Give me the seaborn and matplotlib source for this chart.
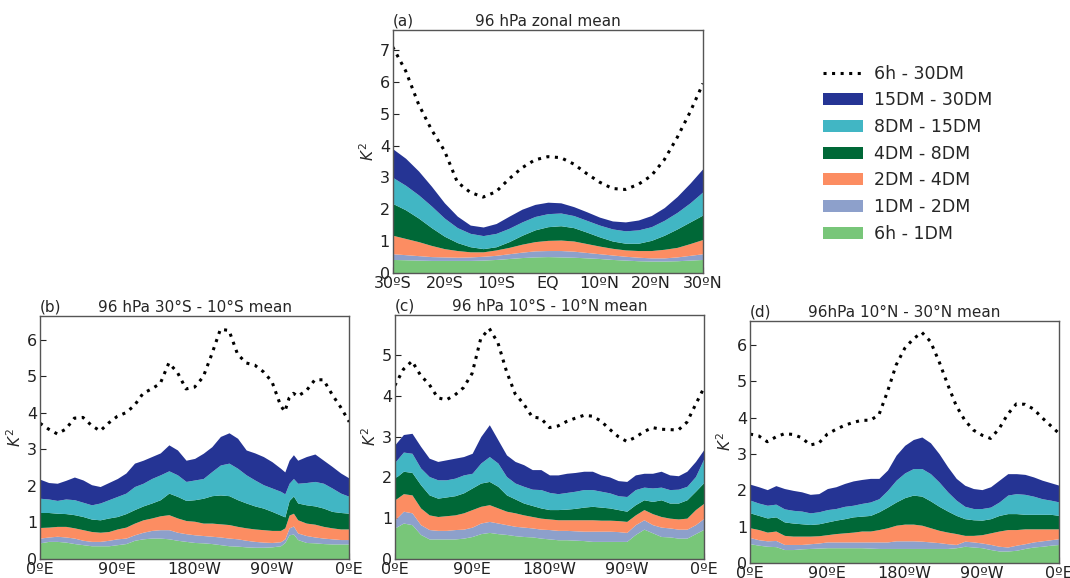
import numpy as np
import pandas as pd
import matplotlib
matplotlib.use("Agg")
import matplotlib.pyplot as plt
from matplotlib.lines import Line2D
from matplotlib.patches import Patch
import seaborn as sns

# ---------------- data (cumulative upper edges of each band) ----------------
band_labels = ["6h - 1DM", "1DM - 2DM", "2DM - 4DM", "4DM - 8DM", "8DM - 15DM", "15DM - 30DM"]
band_colors = ["#78c679", "#8da0cb", "#fc8d62", "#006837", "#41b6c4", "#253494"]
total_label = "6h - 30DM"

# panel (a): zonal mean vs latitude
lat_a = [-30, -27.5, -25, -22.5, -20, -17.5, -15, -12.5, -10, -7.5, -5, -2.5, 0,
         2.5, 5, 7.5, 10, 12.5, 15, 17.5, 20, 22.5, 25, 27.5, 30]
a_total = [7.1, 6.35, 5.3, 4.5, 3.84, 2.85, 2.53, 2.38, 2.55, 2.95, 3.3, 3.55, 3.65,
           3.62, 3.42, 3.12, 2.85, 2.65, 2.62, 2.78, 3.05, 3.55, 4.25, 5.05, 5.95]
a_15_30 = [3.9, 3.6, 3.2, 2.72, 2.2, 1.78, 1.5, 1.44, 1.55, 1.78, 2.0, 2.15, 2.22,
           2.2, 2.08, 1.92, 1.75, 1.63, 1.6, 1.66, 1.8, 2.05, 2.4, 2.82, 3.28]
a_8_15 = [3.0, 2.75, 2.45, 2.1, 1.72, 1.42, 1.24, 1.17, 1.24, 1.4, 1.6, 1.77, 1.86,
          1.88, 1.8, 1.65, 1.5, 1.38, 1.32, 1.35, 1.45, 1.65, 1.9, 2.2, 2.55]
a_4_8 = [2.18, 1.98, 1.72, 1.42, 1.15, 0.95, 0.82, 0.76, 0.82, 0.98, 1.18, 1.35, 1.45,
         1.48, 1.42, 1.28, 1.13, 1.0, 0.93, 0.93, 1.02, 1.18, 1.38, 1.6, 1.82]
a_2_4 = [1.18, 1.08, 0.98, 0.86, 0.76, 0.7, 0.66, 0.66, 0.72, 0.8, 0.9, 0.98, 1.02,
         1.03, 1.0, 0.92, 0.84, 0.77, 0.72, 0.7, 0.7, 0.74, 0.8, 0.92, 1.05]
a_1_2 = [0.6, 0.57, 0.54, 0.51, 0.5, 0.49, 0.5, 0.52, 0.55, 0.6, 0.65, 0.69, 0.7,
         0.7, 0.68, 0.64, 0.6, 0.56, 0.52, 0.49, 0.47, 0.47, 0.5, 0.55, 0.6]
a_6h_1 = [0.42, 0.41, 0.4, 0.39, 0.39, 0.39, 0.39, 0.4, 0.42, 0.45, 0.48, 0.5, 0.51,
          0.5, 0.49, 0.47, 0.45, 0.42, 0.4, 0.38, 0.37, 0.37, 0.38, 0.4, 0.42]

# panel (b): 30S-10S mean vs longitude
lon_b = [0, 10, 20, 30, 40, 50, 60, 70, 80, 90, 100, 110, 120, 130, 140, 150, 160, 170,
         180, 190, 200, 210, 220, 230, 240, 250, 260, 270, 280, 285, 290, 295, 300,
         310, 320, 330, 340, 350, 360]
b_total = [3.71, 3.55, 3.42, 3.55, 3.85, 3.87, 3.65, 3.5, 3.72, 3.9, 4.0, 4.2, 4.53, 4.65,
           4.8, 5.36, 5.1, 4.65, 4.7, 4.98, 5.6, 6.28, 6.25, 5.6, 5.36, 5.3, 5.12, 4.85,
           4.2, 4.03, 4.4, 4.53, 4.45, 4.6, 4.9, 4.9, 4.5, 4.15, 3.75]
b_15_30 = [2.18, 2.09, 2.07, 2.15, 2.24, 2.16, 2.03, 1.98, 2.09, 2.2, 2.35, 2.62, 2.7, 2.8,
           2.9, 3.12, 2.98, 2.7, 2.75, 2.89, 3.07, 3.35, 3.45, 3.3, 2.98, 2.9, 2.8, 2.66,
           2.48, 2.38, 2.7, 2.85, 2.7, 2.8, 2.87, 2.7, 2.53, 2.35, 2.21]
b_8_15 = [1.66, 1.64, 1.6, 1.64, 1.62, 1.55, 1.48, 1.53, 1.62, 1.71, 1.8, 1.98, 2.07, 2.2,
          2.3, 2.41, 2.3, 2.12, 2.16, 2.2, 2.39, 2.57, 2.62, 2.48, 2.3, 2.16, 2.03, 1.94,
          1.85, 1.78, 2.07, 2.2, 2.07, 2.09, 2.12, 2.07, 1.94, 1.8, 1.71]
b_4_8 = [1.27, 1.27, 1.25, 1.24, 1.21, 1.16, 1.09, 1.07, 1.12, 1.16, 1.24, 1.35, 1.45, 1.53,
         1.62, 1.8, 1.71, 1.6, 1.62, 1.66, 1.73, 1.75, 1.73, 1.62, 1.53, 1.45, 1.39, 1.3,
         1.2, 1.15, 1.6, 1.72, 1.53, 1.48, 1.45, 1.39, 1.3, 1.27, 1.25]
b_2_4 = [0.86, 0.87, 0.89, 0.89, 0.85, 0.8, 0.75, 0.73, 0.75, 0.82, 0.87, 0.98, 1.07, 1.12,
         1.18, 1.21, 1.12, 1.05, 1.03, 0.98, 0.98, 0.96, 0.94, 0.89, 0.85, 0.82, 0.8, 0.78,
         0.78, 0.85, 1.2, 1.25, 1.07, 0.98, 0.95, 0.89, 0.85, 0.82, 0.82]
b_1_2 = [0.57, 0.6, 0.62, 0.6, 0.57, 0.51, 0.48, 0.48, 0.51, 0.55, 0.57, 0.66, 0.73, 0.78,
         0.8, 0.8, 0.73, 0.69, 0.66, 0.64, 0.62, 0.6, 0.57, 0.55, 0.51, 0.48, 0.46, 0.45,
         0.47, 0.55, 0.85, 0.9, 0.71, 0.64, 0.6, 0.57, 0.55, 0.53, 0.53]
b_6h_1 = [0.44, 0.48, 0.48, 0.46, 0.42, 0.39, 0.36, 0.36, 0.36, 0.39, 0.42, 0.51, 0.55, 0.57,
          0.57, 0.55, 0.51, 0.48, 0.45, 0.44, 0.42, 0.39, 0.36, 0.35, 0.33, 0.32, 0.32, 0.33,
          0.36, 0.45, 0.66, 0.68, 0.53, 0.45, 0.44, 0.42, 0.41, 0.41, 0.41]

# panels (c), (d): longitude every 10 degrees
lon_cd = list(range(0, 361, 10))
c_total = [4.25, 4.65, 4.85, 4.5, 4.28, 3.95, 3.9, 4.02, 4.2, 4.55, 5.4, 5.65, 5.3, 4.6,
           4.05, 3.8, 3.48, 3.45, 3.22, 3.26, 3.37, 3.45, 3.52, 3.5, 3.38, 3.18, 3.0, 2.88,
           2.98, 3.12, 3.22, 3.18, 3.17, 3.16, 3.35, 3.78, 4.2]
c_15_30 = [2.8, 3.05, 3.08, 2.76, 2.47, 2.39, 2.43, 2.47, 2.51, 2.59, 3.0, 3.29, 2.92, 2.55,
           2.39, 2.31, 2.19, 2.19, 2.06, 2.06, 2.1, 2.12, 2.15, 2.15, 2.06, 2.01, 1.92, 1.9,
           2.06, 2.1, 2.1, 2.15, 2.06, 2.04, 2.15, 2.39, 2.69]
c_8_15 = [2.37, 2.62, 2.59, 2.23, 2.02, 1.94, 1.94, 1.98, 2.06, 2.1, 2.35, 2.51, 2.35, 2.02,
          1.86, 1.78, 1.71, 1.7, 1.63, 1.6, 1.63, 1.66, 1.7, 1.7, 1.66, 1.62, 1.55, 1.53,
          1.7, 1.76, 1.74, 1.76, 1.7, 1.71, 1.78, 2.02, 2.47]
c_4_8 = [1.98, 2.15, 2.12, 1.82, 1.57, 1.49, 1.52, 1.55, 1.62, 1.74, 1.86, 1.9, 1.78, 1.57,
         1.47, 1.37, 1.31, 1.25, 1.21, 1.21, 1.22, 1.24, 1.27, 1.29, 1.27, 1.25, 1.21, 1.17,
         1.33, 1.45, 1.41, 1.45, 1.37, 1.37, 1.45, 1.66, 1.88]
c_2_4 = [1.45, 1.6, 1.57, 1.25, 1.08, 1.04, 1.06, 1.08, 1.13, 1.21, 1.29, 1.33, 1.25, 1.17,
         1.13, 1.08, 1.04, 1.0, 0.98, 0.96, 0.96, 0.96, 0.96, 0.96, 0.95, 0.95, 0.94, 0.92,
         1.08, 1.21, 1.11, 1.04, 1.0, 0.98, 1.0, 1.21, 1.37]
c_1_2 = [0.96, 1.17, 1.13, 0.84, 0.72, 0.7, 0.7, 0.72, 0.73, 0.78, 0.88, 0.92, 0.88, 0.84,
         0.8, 0.78, 0.76, 0.73, 0.72, 0.7, 0.7, 0.69, 0.68, 0.68, 0.68, 0.68, 0.67, 0.65,
         0.84, 0.96, 0.84, 0.78, 0.76, 0.73, 0.73, 0.84, 1.0]
c_6h_1 = [0.76, 0.88, 0.84, 0.6, 0.49, 0.49, 0.49, 0.49, 0.51, 0.55, 0.62, 0.65, 0.62, 0.6,
          0.57, 0.55, 0.54, 0.51, 0.49, 0.47, 0.47, 0.46, 0.45, 0.43, 0.43, 0.43, 0.43, 0.43,
          0.6, 0.73, 0.64, 0.55, 0.54, 0.51, 0.51, 0.62, 0.73]

d_total = [3.55, 3.5, 3.34, 3.47, 3.56, 3.54, 3.45, 3.25, 3.3, 3.55, 3.68, 3.79, 3.87, 3.93,
           3.93, 4.08, 4.72, 5.45, 5.91, 6.17, 6.35, 6.1, 5.55, 4.92, 4.33, 3.93, 3.66, 3.52,
           3.43, 3.7, 4.1, 4.38, 4.37, 4.24, 4.0, 3.78, 3.56]
d_15_30 = [2.17, 2.1, 2.02, 2.13, 2.05, 2.0, 1.96, 1.89, 1.91, 2.05, 2.1, 2.19, 2.26, 2.3,
           2.33, 2.33, 2.56, 2.97, 3.24, 3.4, 3.47, 3.31, 3.01, 2.65, 2.33, 2.14, 2.05, 2.02,
           2.1, 2.28, 2.46, 2.46, 2.44, 2.37, 2.28, 2.21, 2.14]
d_8_15 = [1.73, 1.65, 1.59, 1.62, 1.49, 1.45, 1.43, 1.38, 1.41, 1.47, 1.5, 1.56, 1.59, 1.64,
          1.68, 1.77, 2.0, 2.28, 2.48, 2.6, 2.6, 2.46, 2.23, 1.96, 1.73, 1.56, 1.5, 1.5,
          1.54, 1.68, 1.87, 1.91, 1.89, 1.84, 1.77, 1.73, 1.68]
d_4_8 = [1.38, 1.31, 1.24, 1.27, 1.13, 1.1, 1.08, 1.06, 1.08, 1.13, 1.18, 1.22, 1.27, 1.29,
         1.31, 1.41, 1.54, 1.68, 1.8, 1.87, 1.84, 1.71, 1.56, 1.43, 1.31, 1.22, 1.19, 1.18,
         1.22, 1.31, 1.36, 1.36, 1.34, 1.34, 1.34, 1.34, 1.31]
d_2_4 = [0.97, 0.92, 0.85, 0.88, 0.76, 0.74, 0.74, 0.74, 0.75, 0.78, 0.81, 0.83, 0.85, 0.88,
         0.88, 0.92, 0.97, 1.04, 1.07, 1.07, 1.04, 0.97, 0.9, 0.85, 0.81, 0.76, 0.76, 0.78,
         0.83, 0.88, 0.92, 0.92, 0.94, 0.94, 0.94, 0.94, 0.94]
d_1_2 = [0.7, 0.64, 0.61, 0.62, 0.51, 0.51, 0.51, 0.53, 0.55, 0.58, 0.58, 0.58, 0.58, 0.58,
         0.58, 0.58, 0.58, 0.61, 0.61, 0.61, 0.6, 0.58, 0.56, 0.53, 0.51, 0.6, 0.58, 0.55,
         0.51, 0.46, 0.44, 0.49, 0.53, 0.58, 0.61, 0.64, 0.67]
d_6h_1 = [0.53, 0.49, 0.46, 0.45, 0.37, 0.37, 0.39, 0.4, 0.41, 0.42, 0.42, 0.42, 0.42, 0.42,
          0.41, 0.4, 0.4, 0.4, 0.4, 0.4, 0.4, 0.4, 0.4, 0.4, 0.42, 0.46, 0.44, 0.42, 0.37,
          0.33, 0.33, 0.35, 0.4, 0.44, 0.46, 0.49, 0.51]

lat_ticks = [-30, -20, -10, 0, 10, 20, 30]
lat_ticklabels = ["30ºS", "20ºS", "10ºS", "EQ", "10ºN", "20ºN", "30ºN"]
lon_ticks = [0, 90, 180, 270, 360]
lon_ticklabels = ["0ºE", "90ºE", "180ºW", "90ºW", "0ºE"]

# ---------------- drawing ----------------
sns.set_style("ticks")
plt.rcParams["font.family"] = ["DejaVu Sans"]

fig = plt.figure(figsize=(10.7, 5.78), dpi=100)

panels = [
    dict(pos=[0.367, 0.528, 0.290, 0.420], x=lat_a,
         tops=[a_6h_1, a_1_2, a_2_4, a_4_8, a_8_15, a_15_30], total=a_total,
         tag="(a)", title="96 hPa zonal mean", ylim=7.63, yticks=range(0, 8),
         xlim=(-30, 30), xticks=lat_ticks, xticklabels=lat_ticklabels),
    dict(pos=[0.0374, 0.033, 0.289, 0.420], x=lon_b,
         tops=[b_6h_1, b_1_2, b_2_4, b_4_8, b_8_15, b_15_30], total=b_total,
         tag="(b)", title="96 hPa 30°S - 10°S mean", ylim=6.64, yticks=range(0, 7),
         xlim=(0, 360), xticks=lon_ticks, xticklabels=lon_ticklabels),
    dict(pos=[0.369, 0.033, 0.289, 0.422], x=lon_cd,
         tops=[c_6h_1, c_1_2, c_2_4, c_4_8, c_8_15, c_15_30], total=c_total,
         tag="(c)", title="96 hPa 10°S - 10°N mean", ylim=5.98, yticks=range(0, 6),
         xlim=(0, 360), xticks=lon_ticks, xticklabels=lon_ticklabels),
    dict(pos=[0.701, 0.026, 0.289, 0.419], x=lon_cd,
         tops=[d_6h_1, d_1_2, d_2_4, d_4_8, d_8_15, d_15_30], total=d_total,
         tag="(d)", title="96hPa 10°N - 30°N mean", ylim=6.67, yticks=range(0, 7),
         xlim=(0, 360), xticks=lon_ticks, xticklabels=lon_ticklabels),
]

for p in panels:
    ax = fig.add_axes(p["pos"])
    x = np.asarray(p["x"], dtype=float)
    lower = np.zeros_like(x)
    for top, col in zip(p["tops"], band_colors):
        upper = np.asarray(top, dtype=float)
        ax.fill_between(x, lower, upper, color=col, linewidth=0)
        lower = upper
    df = pd.DataFrame({"x": x, "y": p["total"]})
    sns.lineplot(data=df, x="x", y="y", ax=ax, color="black",
                 linestyle=(0, (1, 1.8)), linewidth=2.2, sort=False)
    ax.set_xlim(*p["xlim"])
    ax.set_ylim(0, p["ylim"])
    ax.set_xticks(p["xticks"])
    ax.set_xticklabels(p["xticklabels"])
    ax.set_yticks(list(p["yticks"]))
    ax.set_xlabel("")
    ax.set_ylabel("$K^2$", fontsize=11, labelpad=2)
    ax.tick_params(direction="in", length=4, width=0.8, labelsize=11.5, pad=2,
                   colors="#222222")
    for s in ax.spines.values():
        s.set_color("#555555")
        s.set_linewidth(1.0)
    ax.set_title(p["title"], fontsize=11, pad=3)
    ax.set_title(p["tag"], loc="left", fontsize=11, pad=3)

handles = [Line2D([0], [0], color="black", linestyle=(0, (1, 1.8)), linewidth=2.2)]
labels = [total_label]
for lab, col in zip(band_labels[::-1], band_colors[::-1]):
    handles.append(Patch(facecolor=col, edgecolor="none"))
    labels.append(lab)
fig.legend(handles, labels, loc="upper left", bbox_to_anchor=(0.755, 0.915),
           frameon=False, fontsize=12.5, handlelength=2.3, handletextpad=0.6,
           labelspacing=0.5)

fig.savefig("out.png", dpi=100)
